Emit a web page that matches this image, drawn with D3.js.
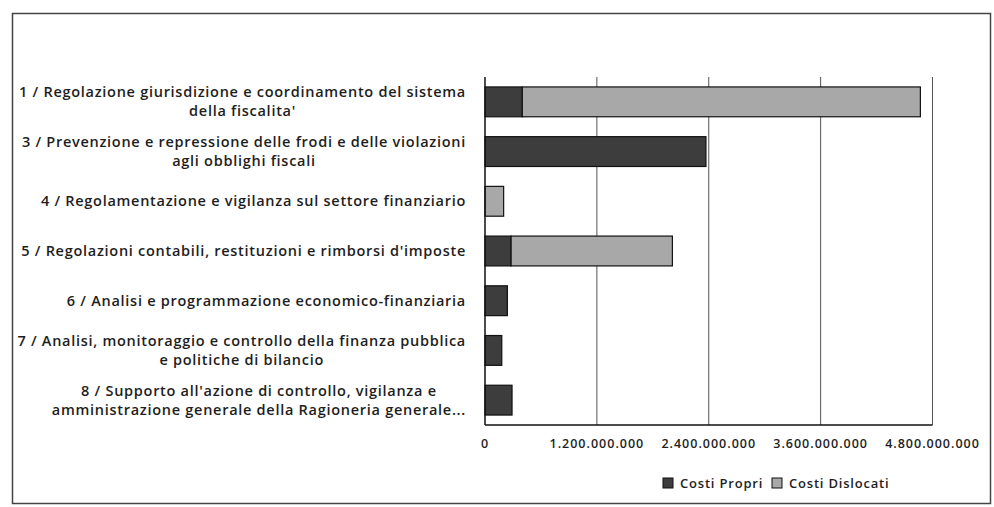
<!DOCTYPE html>
<html>
<head>
<meta charset="utf-8">
<script src="https://cdn.jsdelivr.net/npm/d3@7"></script>
<style>
    html, body { margin: 0; padding: 0; background: #fff; }
    svg text { font-family: "Open Sans", Lato, sans-serif; fill: #1e1e1e; font-weight: 600; }
</style>
</head>
<body>
<svg id="chart" width="994" height="507"></svg>
<script>
// Categories (each label is split into its display lines)
const categories = [
    ["1 / Regolazione giurisdizione e coordinamento del sistema", "della fiscalita'"],
    ["3 / Prevenzione e repressione delle frodi e delle violazioni", "agli obblighi fiscali"],
    ["4 / Regolamentazione e vigilanza sul settore finanziario"],
    ["5 / Regolazioni contabili, restituzioni e rimborsi d'imposte"],
    ["6 / Analisi e programmazione economico-finanziaria"],
    ["7 / Analisi, monitoraggio e controllo della finanza pubblica", "e politiche di bilancio"],
    ["8 / Supporto all'azione di controllo, vigilanza e", "amministrazione generale della Ragioneria generale..."]
];

// Series values (euro)
const costiPropri    = [400000000, 2370000000, 0, 280000000, 240000000, 180000000, 290000000];
const costiDislocati = [4270000000, 0, 200000000, 1730000000, 0, 0, 0];

const seriesNames = ["Costi Propri", "Costi Dislocati"];
const seriesColors = ["#3d3d3d", "#a8a8a8"];

const tickValues = [0, 1200000000, 2400000000, 3600000000, 4800000000];

const svg = d3.select('#chart');

// outer frame
svg.append('rect')
    .attr('x', 12.5).attr('y', 13.5)
    .attr('width', 978).attr('height', 490)
    .attr('fill', 'none')
    .attr('stroke', '#444')
    .attr('stroke-width', 1.5);

const plot = { left: 485, right: 932.5, top: 77, bottom: 425 };

const x = d3.scaleLinear()
    .domain([0, 4800000000])
    .range([plot.left, plot.right]);

const y = d3.scaleBand()
    .domain(d3.range(categories.length))
    .range([plot.top, plot.bottom])
    .paddingInner(0.4)
    .paddingOuter(0.2);

// gridlines
svg.append('g')
    .selectAll('line')
    .data(tickValues.slice(1))
    .enter()
    .append('line')
    .attr('x1', d => x(d)).attr('x2', d => x(d))
    .attr('y1', plot.top).attr('y2', plot.bottom)
    .attr('stroke', '#555')
    .attr('stroke-width', 1);

// stacked bars
const rows = categories.map((c, i) => ({ i: i, propri: costiPropri[i], dislocati: costiDislocati[i] }));
const stack = d3.stack().keys(['propri', 'dislocati'])(rows);

svg.append('g')
    .selectAll('g')
    .data(stack)
    .enter()
    .append('g')
    .attr('fill', (d, k) => seriesColors[k])
    .selectAll('rect')
    .data(d => d.filter(s => s[1] > s[0]))
    .enter()
    .append('rect')
    .attr('x', d => x(d[0]))
    .attr('width', d => x(d[1]) - x(d[0]))
    .attr('y', d => y(d.data.i))
    .attr('height', y.bandwidth())
    .attr('stroke', '#111')
    .attr('stroke-width', 1.2);

// axes lines
svg.append('line')
    .attr('x1', plot.left).attr('x2', plot.left)
    .attr('y1', plot.top).attr('y2', plot.bottom)
    .attr('stroke', '#111').attr('stroke-width', 1.5);

svg.append('line')
    .attr('x1', plot.left).attr('x2', plot.right)
    .attr('y1', plot.bottom).attr('y2', plot.bottom)
    .attr('stroke', '#111').attr('stroke-width', 1.5);

// x tick labels
const fmt = v => d3.format(',')(v).replace(/,/g, '.');
svg.append('g')
    .selectAll('text')
    .data(tickValues)
    .enter()
    .append('text')
    .attr('x', d => x(d))
    .attr('y', 448)
    .attr('text-anchor', 'middle')
    .attr('font-size', 12.5)
    .attr('letter-spacing', 1)
    .text(d => fmt(d));

// category labels: lines centred on each other, block right-aligned
const labelRight = 466;
const lineHeight = 19;
const labelGroup = svg.append('g');
categories.forEach((lines, i) => {
    const cy = y(i) + y.bandwidth() / 2;
    const texts = lines.map((line, j) => labelGroup.append('text')
        .attr('y', cy + (j - (lines.length - 1) / 2) * lineHeight)
        .attr('dy', '0.35em')
        .attr('font-size', 14.5)
        .attr('letter-spacing', 0.72)
        .attr('text-anchor', 'middle')
        .text(line));
    const widths = texts.map(t => t.node().getComputedTextLength());
    const blockW = d3.max(widths);
    texts.forEach(t => t.attr('x', labelRight - blockW / 2));
});

// legend
const legend = svg.append('g').attr('transform', 'translate(663, 478)');
const legendX = [0, 109];
seriesNames.forEach((name, k) => {
    const g = legend.append('g').attr('transform', `translate(${legendX[k]}, 0)`);
    g.append('rect')
        .attr('width', 10).attr('height', 10)
        .attr('fill', seriesColors[k])
        .attr('stroke', '#111');
    g.append('text')
        .attr('x', 17).attr('y', 5)
        .attr('dy', '0.35em')
        .attr('font-size', 13)
        .attr('letter-spacing', 0.8)
        .text(name);
});
</script>
</body>
</html>
